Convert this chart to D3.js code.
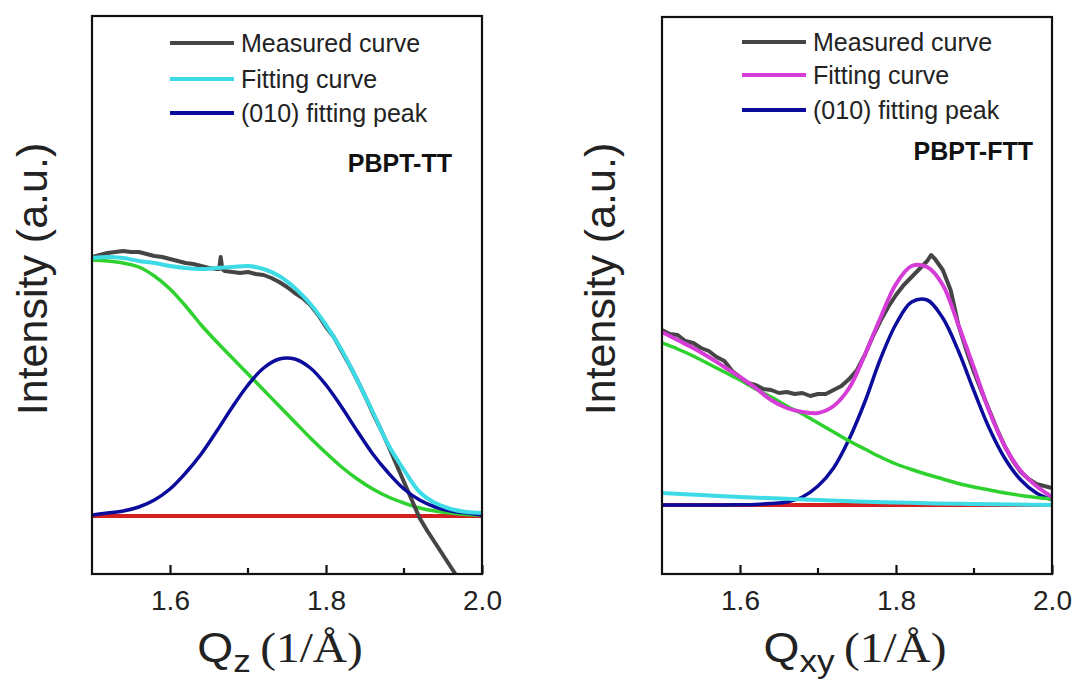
<!DOCTYPE html>
<html>
<head>
<meta charset="utf-8">
<script src="https://cdn.jsdelivr.net/npm/d3@7"></script>
<style>
  body { margin: 0; background: #fff; }
  svg { display: block; }
  .tick-label { font-family: "Liberation Sans", Arial, sans-serif; font-size: 28px; fill: #222; }
  .legend-text { font-family: "Liberation Sans", Arial, sans-serif; font-size: 25px; fill: #222; }
  .sample-text { font-family: "Liberation Sans", Arial, sans-serif; font-size: 25px; font-weight: bold; fill: #111; }
  .y-title { font-family: "Liberation Sans", Arial, sans-serif; font-size: 43px; fill: #222; }
</style>
</head>
<body>
<svg id="chart"></svg>
<script>
// x grids (1/Å)
const qFit = [1.50, 1.52, 1.54, 1.56, 1.58, 1.60, 1.62, 1.64, 1.66, 1.68, 1.70, 1.72, 1.74,
              1.76, 1.78, 1.80, 1.82, 1.84, 1.86, 1.88, 1.90, 1.92, 1.94, 1.96, 1.98, 2.00];
const qLinear = [1.50, 1.55, 1.60, 1.65, 1.70, 1.75, 1.80, 1.85, 1.90, 1.95, 2.00];
const xTicks = [1.6, 1.8, 2.0];
const xMinorTicks = [1.7, 1.9];

// PBPT-TT (Qz)
const qMeasTT = [1.50, 1.51, 1.52, 1.53, 1.54, 1.55, 1.56, 1.57, 1.58, 1.59, 1.60, 1.61, 1.62, 1.63,
                 1.64, 1.65, 1.66, 1.663, 1.665, 1.667, 1.67, 1.68, 1.69, 1.70, 1.71, 1.72, 1.73,
                 1.74, 1.75, 1.76, 1.77, 1.78, 1.79, 1.80, 1.81, 1.82, 1.83, 1.84, 1.85, 1.86, 1.87,
                 1.88, 1.89, 1.90, 1.91, 1.92, 1.93, 1.94, 1.95, 1.96, 1.97];
const ttMeasured = [2.59, 2.61, 2.63, 2.64, 2.65, 2.64, 2.64, 2.62, 2.60, 2.59, 2.57, 2.55, 2.53, 2.52,
                    2.50, 2.48, 2.47, 2.47, 2.59, 2.47, 2.45, 2.44, 2.43, 2.44, 2.42, 2.41, 2.38,
                    2.34, 2.29, 2.23, 2.18, 2.11, 2.01, 1.89, 1.79, 1.65, 1.51, 1.36, 1.20, 1.03, 0.87,
                    0.70, 0.52, 0.34, 0.16, -0.02, -0.15, -0.27, -0.39, -0.51, -0.63];
const ttFit = [2.58, 2.59, 2.58, 2.55, 2.53, 2.50, 2.48, 2.47, 2.48, 2.49, 2.50, 2.47, 2.40,
               2.28, 2.12, 1.91, 1.66, 1.36, 1.04, 0.71, 0.46, 0.24, 0.13, 0.07, 0.04, 0.03];
const ttPeak = [0.01, 0.03, 0.05, 0.09, 0.16, 0.27, 0.43, 0.62, 0.85, 1.09, 1.31, 1.48, 1.57,
                1.57, 1.48, 1.31, 1.09, 0.85, 0.62, 0.43, 0.27, 0.16, 0.09, 0.05, 0.03, 0.01];
const ttBackground = [2.56, 2.55, 2.53, 2.49, 2.40, 2.27, 2.10, 1.91, 1.74, 1.58, 1.42, 1.26, 1.10,
                      0.94, 0.78, 0.63, 0.49, 0.37, 0.27, 0.19, 0.13, 0.08, 0.05, 0.03, 0.015, 0.01];
const ttBaseline = [0, 0];

// PBPT-FTT (Qxy)
const qMeasFTT = [1.50, 1.51, 1.52, 1.53, 1.54, 1.55, 1.56, 1.57, 1.58, 1.59, 1.60, 1.61, 1.62, 1.63,
                  1.64, 1.65, 1.66, 1.67, 1.68, 1.69, 1.70, 1.71, 1.72, 1.73, 1.74, 1.75, 1.76,
                  1.77, 1.78, 1.79, 1.80, 1.81, 1.82, 1.83, 1.84, 1.845, 1.85, 1.86, 1.87, 1.88,
                  1.89, 1.90, 1.91, 1.92, 1.93, 1.94, 1.95, 1.96, 1.97, 1.98, 1.99, 2.00];
const fttMeasured = [1.75, 1.71, 1.70, 1.64, 1.62, 1.57, 1.54, 1.48, 1.44, 1.34, 1.28, 1.22, 1.20, 1.16,
                     1.15, 1.12, 1.13, 1.11, 1.12, 1.09, 1.11, 1.11, 1.15, 1.19, 1.26, 1.35, 1.50,
                     1.68, 1.84, 1.98, 2.10, 2.20, 2.28, 2.36, 2.44, 2.50, 2.46, 2.35, 2.15, 1.80,
                     1.55, 1.33, 1.13, 0.94, 0.75, 0.58, 0.44, 0.33, 0.26, 0.21, 0.19, 0.17];
const fttFit = [1.73, 1.65, 1.57, 1.48, 1.38, 1.28, 1.17, 1.05, 0.97, 0.93, 0.92, 0.99, 1.17,
                1.50, 1.87, 2.21, 2.39, 2.38, 2.20, 1.80, 1.37, 0.93, 0.58, 0.34, 0.19, 0.08];
const fttPeak = [0, 0, 0, 0, 0, 0.002, 0.006, 0.015, 0.03, 0.08, 0.19, 0.37, 0.66,
                 1.03, 1.46, 1.81, 2.03, 2.05, 1.87, 1.54, 1.14, 0.76, 0.46, 0.25, 0.12, 0.05];
const fttBackground = [1.62, 1.56, 1.49, 1.41, 1.33, 1.25, 1.16, 1.08, 0.99, 0.91, 0.82, 0.73, 0.64,
                       0.56, 0.48, 0.41, 0.355, 0.305, 0.26, 0.215, 0.18, 0.15, 0.12, 0.095, 0.075, 0.06];
const fttLinear = [0.12, 0.10, 0.08, 0.065, 0.05, 0.035, 0.025, 0.015, 0.01, 0.005, 0.0];
const fttBaseline = [0, 0];

const legendLabels = ['Measured curve', 'Fitting curve', '(010) fitting peak'];

const colors = {
    measured: '#454545',
    cyan: '#3ddbe6',
    magenta: '#d63cd6',
    peak: '#0b0b9c',
    background: '#2fd12f',
    baseline: '#d42020'
};

const svg = d3.select('#chart')
    .attr('width', 1078)
    .attr('height', 680);

svg.append('rect').attr('width', 1078).attr('height', 680).attr('fill', '#fff');

function zip(xs, ys) {
    return xs.map((x, i) => ({x: x, y: ys[i]}));
}

function drawPanel(cfg) {
    const x = d3.scaleLinear().domain([1.5, 2.0]).range([cfg.left, cfg.right]);
    const y = d3.scaleLinear().domain(cfg.yDomain).range([574, cfg.top]);

    const g = svg.append('g');

    g.append('clipPath').attr('id', cfg.id + '-clip')
        .append('rect')
        .attr('x', cfg.left).attr('y', cfg.top)
        .attr('width', cfg.right - cfg.left).attr('height', 574 - cfg.top);

    const plot = g.append('g').attr('clip-path', `url(#${cfg.id}-clip)`);

    const smooth = d3.line()
        .x(d => x(d.x))
        .y(d => y(d.y))
        .curve(d3.curveCatmullRom.alpha(0.5));
    const straight = d3.line()
        .x(d => x(d.x))
        .y(d => y(d.y));

    cfg.series.forEach(s => {
        plot.append('path')
            .datum(s.data)
            .attr('fill', 'none')
            .attr('stroke', s.color)
            .attr('stroke-width', s.width)
            .attr('stroke-linejoin', 'round')
            .attr('d', s.linear ? straight(s.data) : smooth(s.data));
    });

    // frame
    g.append('rect')
        .attr('x', cfg.left).attr('y', cfg.top)
        .attr('width', cfg.right - cfg.left).attr('height', 574 - cfg.top)
        .attr('fill', 'none').attr('stroke', '#111').attr('stroke-width', 2.2);

    // bottom axis, ticks pointing inward
    const xAxis = d3.axisBottom(x)
        .tickValues(xTicks)
        .tickSizeInner(-9)
        .tickSizeOuter(0)
        .tickPadding(16)
        .tickFormat(d3.format('.1f'));
    const axisG = g.append('g').attr('transform', 'translate(0,574)').call(xAxis);
    axisG.select('.domain').remove();
    axisG.selectAll('.tick line').attr('stroke', '#111').attr('stroke-width', 2.2);
    axisG.selectAll('.tick text').attr('class', 'tick-label').attr('fill', '#222');

    g.append('g').selectAll('line')
        .data(xMinorTicks)
        .join('line')
        .attr('x1', d => x(d)).attr('x2', d => x(d))
        .attr('y1', 574).attr('y2', 568)
        .attr('stroke', '#111').attr('stroke-width', 2.2);

    // legend
    const lg = g.append('g');
    legendLabels.forEach((label, i) => {
        const ly = cfg.legendY[i];
        lg.append('line')
            .attr('x1', cfg.legendX).attr('x2', cfg.legendX + 64)
            .attr('y1', ly).attr('y2', ly)
            .attr('stroke', cfg.legendColors[i]).attr('stroke-width', 4);
        lg.append('text')
            .attr('class', 'legend-text')
            .attr('x', cfg.legendX + 71).attr('y', ly + 9)
            .text(label);
    });

    g.append('text')
        .attr('class', 'sample-text')
        .attr('x', cfg.sampleX).attr('y', cfg.sampleY)
        .attr('text-anchor', 'end')
        .text(cfg.sample);

    // y title
    g.append('text')
        .attr('class', 'y-title')
        .attr('transform', `translate(${cfg.yTitleX},279) rotate(-90)`)
        .attr('text-anchor', 'middle')
        .text('Intensity (a.u.)');

    // x title
    const xt = g.append('text')
        .attr('transform', `translate(${cfg.xTitleX},662) scale(1.1,1)`)
        .attr('text-anchor', 'middle')
        .attr('fill', '#222');
    xt.append('tspan')
        .attr('font-family', '"Liberation Sans", Arial, sans-serif')
        .attr('font-size', 42)
        .text('Q');
    xt.append('tspan')
        .attr('font-family', '"Liberation Sans", Arial, sans-serif')
        .attr('font-size', 32)
        .attr('dy', 10)
        .text(cfg.sub);
    xt.append('tspan')
        .attr('font-family', '"Liberation Serif", "Times New Roman", serif')
        .attr('font-size', 43)
        .attr('dy', -10)
        .text('\u2009(1/Å)');
}

drawPanel({
    id: 'tt',
    left: 92, right: 482, top: 16,
    yDomain: [-0.58, 5.0],
    series: [
        {data: zip([1.5, 2.0], ttBaseline), color: colors.baseline, width: 4, linear: true},
        {data: zip(qFit, ttBackground), color: colors.background, width: 3.5},
        {data: zip(qMeasTT, ttMeasured), color: colors.measured, width: 4, linear: true},
        {data: zip(qFit, ttPeak), color: colors.peak, width: 3.5},
        {data: zip(qFit, ttFit), color: colors.cyan, width: 4}
    ],
    legendX: 170,
    legendY: [43, 79, 113],
    legendColors: [colors.measured, colors.cyan, colors.peak],
    sample: 'PBPT-TT', sampleX: 452, sampleY: 172,
    yTitleX: 47,
    xTitleX: 280,
    sub: 'z'
});

drawPanel({
    id: 'ftt',
    left: 662, right: 1052, top: 17,
    yDomain: [-0.69, 4.88],
    series: [
        {data: zip([1.5, 2.0], fttBaseline), color: colors.baseline, width: 4, linear: true},
        {data: zip(qFit, fttPeak), color: colors.peak, width: 3.5},
        {data: zip(qFit, fttBackground), color: colors.background, width: 3.5},
        {data: zip(qMeasFTT, fttMeasured), color: colors.measured, width: 4, linear: true},
        {data: zip(qFit, fttFit), color: colors.magenta, width: 4},
        {data: zip(qLinear, fttLinear), color: colors.cyan, width: 4}
    ],
    legendX: 742,
    legendY: [42, 75, 110],
    legendColors: [colors.measured, colors.magenta, colors.peak],
    sample: 'PBPT-FTT', sampleX: 1033, sampleY: 160,
    yTitleX: 615,
    xTitleX: 855,
    sub: 'xy'
});
</script>
</body>
</html>
